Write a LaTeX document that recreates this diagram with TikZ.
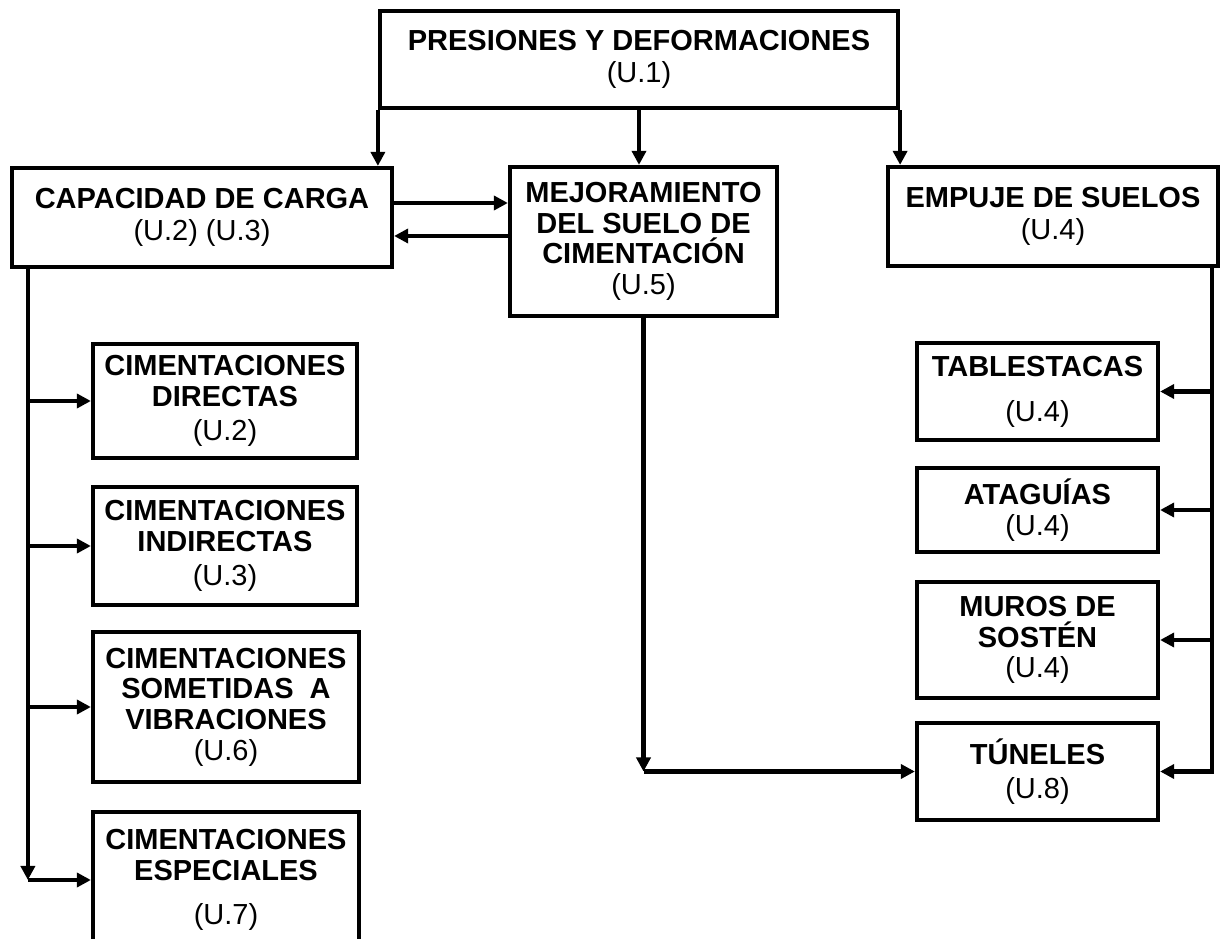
\documentclass[tikz,border=0pt]{standalone}
\usepackage{fontspec}
\setmainfont{Liberation Sans}
\usetikzlibrary{arrows.meta}

\begin{document}
\begin{tikzpicture}[x=0.02cm, y=-0.02cm,
    box/.style 2 args={draw, line width=2.4pt, minimum width=#1*0.02cm, minimum height=#2*0.02cm,
        align=center, inner sep=0pt, font=\fontsize{16.5}{17.5}\selectfont},
    link/.style={line width=2.4pt, -{Triangle[length=8pt, width=8pt]}}]
    \useasboundingbox (0,0) rectangle (1232,939);

    % Top
    \node[box={518}{97}] (pres) at (639,59.5) {\textbf{PRESIONES Y DEFORMACIONES}\\[1pt](U.1)};

    % Second row
    \node[box={380}{99}] (cap) at (202,217.5) {\textbf{CAPACIDAD DE CARGA}\\[1pt](U.2) (U.3)};
    \node[box={267}{149}] (mej) at (643.5,241.5) {\textbf{MEJORAMIENTO}\\\textbf{DEL SUELO DE}\\\textbf{CIMENTACIÓN}\\(U.5)};
    \node[box={330}{99}] (emp) at (1053,216.5) {\textbf{EMPUJE DE SUELOS}\\[1pt](U.4)};

    % Left column
    \node[box={264}{114}] (dir) at (225,401) {\textbf{CIMENTACIONES}\\\textbf{DIRECTAS}\\[2pt](U.2)};
    \node[box={264}{118}] (ind) at (225,546) {\textbf{CIMENTACIONES}\\\textbf{INDIRECTAS}\\[2pt](U.3)};
    \node[box={266}{150}] (vib) at (226,707) {\textbf{CIMENTACIONES}\\\textbf{SOMETIDAS\ \ A}\\\textbf{VIBRACIONES}\\(U.6)};
    \node[box={266}{136}] (esp) at (226,880) {\textbf{CIMENTACIONES}\\\textbf{ESPECIALES}\\[8pt](U.7)};

    % Right column
    \node[box={241}{97}] (tab) at (1037.5,391.5) {\textbf{TABLESTACAS}\\[8pt](U.4)};
    \node[box={241}{84}] (ata) at (1037.5,510) {\textbf{ATAGUÍAS}\\(U.4)};
    \node[box={241}{116}] (mur) at (1037.5,640) {\textbf{MUROS DE}\\\textbf{SOSTÉN}\\(U.4)};
    \node[box={241}{97}] (tun) at (1037.5,771.5) {\textbf{TÚNELES}\\[2pt](U.8)};

    % From the top box
    \draw[link] (pres.south west) -- (pres.south west |- cap.north);
    \draw[link] (pres.south) -- (pres.south |- mej.north);
    \draw[link] (pres.south east) -- (pres.south east |- emp.north);

    % Between capacidad and mejoramiento
    \draw[link] ([yshift=0.29cm]cap.east) -- ([yshift=0.29cm]cap.east -| mej.west);
    \draw[link] ([yshift=-0.37cm]cap.east -| mej.west) -- ([yshift=-0.37cm]cap.east);

    % Left trunk
    \coordinate (ltrunk) at ([xshift=0.36cm]cap.south west);
    \draw[link] (ltrunk) -- (ltrunk |- esp.west);
    \draw[link] (ltrunk |- dir.west) -- (dir.west);
    \draw[link] (ltrunk |- ind.west) -- (ind.west);
    \draw[link] (ltrunk |- vib.west) -- (vib.west);
    \draw[link] (ltrunk |- esp.west) -- (esp.west);

    % Right trunk
    \coordinate (rtrunk) at ([xshift=-0.16cm]emp.south east);
    \draw[link] (rtrunk) -- (rtrunk |- tun.east) -- (tun.east);
    \draw[link] (rtrunk |- tab.east) -- (tab.east);
    \draw[link] (rtrunk |- ata.east) -- (ata.east);
    \draw[link] (rtrunk |- mur.east) -- (mur.east);

    % Mejoramiento down to tuneles
    \draw[link] (mej.south) -- (mej.south |- tun.west);
    \draw[link] (mej.south |- tun.west) -- (tun.west);
\end{tikzpicture}
\end{document}
